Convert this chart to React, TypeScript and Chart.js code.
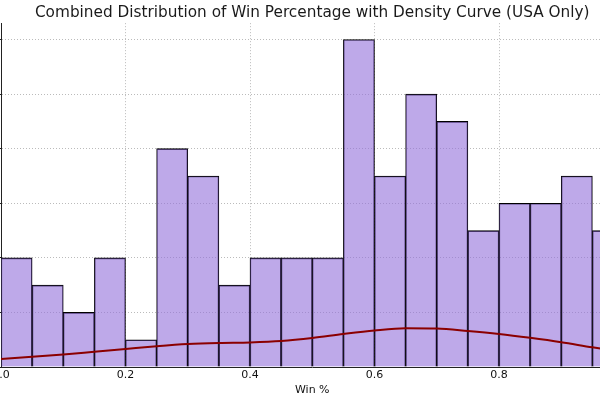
import { useEffect, useRef } from "react";
import { Chart, registerables } from "chart.js";

Chart.register(...registerables);

// Histogram bins (left edges), bin width and counts
const binStarts = [0.0, 0.05, 0.1, 0.15, 0.2, 0.25, 0.3, 0.35, 0.4, 0.45, 0.5, 0.55, 0.6, 0.65, 0.7, 0.75, 0.8, 0.85, 0.9, 0.95];
const binWidth = 0.05;
const counts = [4, 3, 2, 4, 1, 8, 7, 3, 4, 4, 4, 12, 7, 10, 9, 5, 6, 6, 7, 5];

// Density curve (KDE) samples
const densityX = [0.0, 0.05, 0.1, 0.15, 0.2, 0.25, 0.3, 0.35, 0.4, 0.45, 0.5, 0.55, 0.6, 0.65, 0.7, 0.75, 0.8, 0.85, 0.9, 0.95, 1.0];
const densityY = [0.29, 0.38, 0.46, 0.56, 0.66, 0.76, 0.84, 0.88, 0.9, 0.95, 1.06, 1.21, 1.34, 1.42, 1.41, 1.32, 1.21, 1.07, 0.91, 0.72, 0.55];

// Axis ticks
const xTicks = [0.0, 0.2, 0.4, 0.6, 0.8, 1.0];
const yTicks = [0, 2, 4, 6, 8, 10, 12];

const titleText = "Combined Distribution of Win Percentage with Density Curve (USA Only)";
const xTitle = "Win %";

export default function App() {
  const ref = useRef<HTMLCanvasElement | null>(null);

  useEffect(() => {
    if (!ref.current) return;
    Chart.defaults.font.family = "'DejaVu Sans', sans-serif";
    const gridColor = "rgba(150,150,150,0.65)";
    const chart = new Chart(ref.current, {
      type: "bar",
      data: {
        datasets: [
          {
            type: "line",
            label: "Density",
            data: densityX.map((x, i) => ({ x, y: densityY[i] })),
            borderColor: "#8b0000",
            borderWidth: 2,
            pointRadius: 0,
            cubicInterpolationMode: "monotone",
            fill: false,
            order: 0,
          } as any,
          {
            type: "bar",
            label: "Count",
            data: binStarts.map((s, i) => ({ x: s + binWidth / 2, y: counts[i] })),
            backgroundColor: "rgba(147,112,219,0.6)",
            borderColor: "#000000",
            borderWidth: { top: 1, left: 0.8, right: 0.8, bottom: 0 },
            barPercentage: 1,
            categoryPercentage: 1,
            order: 1,
          } as any,
        ],
      },
      options: {
        responsive: false,
        animation: false,
        events: [],
        layout: { padding: { left: 61, right: 76.5, top: 0, bottom: 0 } },
        plugins: {
          legend: { display: false },
          tooltip: { enabled: false },
          title: {
            display: true,
            text: titleText,
            fullSize: false,
            color: "#1a1a1a",
            font: { size: 15.3, weight: "normal" },
            padding: { top: 3.5, bottom: 1.3 },
          },
        },
        scales: {
          x: {
            type: "linear",
            min: 0,
            max: 1,
            offset: false,
            z: 1,
            afterFit: (s: any) => {
              s.height = 33;
            },
            afterBuildTicks: (s: any) => {
              s.ticks = xTicks.map((v) => ({ value: v }));
            },
            grid: { offset: false, color: gridColor, lineWidth: 1, drawTicks: false },
            border: { display: true, color: "#222222", width: 1, dash: [1, 2] },
            ticks: {
              color: "#111111",
              font: { size: 11 },
              padding: 2,
              maxRotation: 0,
              callback: (v: any) => Number(v).toFixed(1),
            },
            title: {
              display: true,
              text: xTitle,
              color: "#111111",
              font: { size: 11 },
              padding: { top: 2, bottom: 3.5 },
            },
          },
          y: {
            type: "linear",
            min: 0,
            max: 12.6,
            z: 1,
            afterFit: (s: any) => {
              s.width = 40;
            },
            afterBuildTicks: (s: any) => {
              s.ticks = yTicks.map((v) => ({ value: v }));
            },
            grid: { color: gridColor, lineWidth: 1, drawTicks: true, tickLength: 3.5, tickColor: "#222222" },
            border: { display: true, color: "#222222", width: 1, dash: [1, 2] },
            ticks: { color: "#111111", font: { size: 11 }, padding: 3 },
          },
        },
      },
    });
    return () => chart.destroy();
  }, []);

  return (
    <div
      style={{
        position: "fixed",
        left: 0,
        top: 0,
        width: 600,
        height: 400,
        overflow: "hidden",
        background: "#ffffff",
      }}
    >
      <canvas ref={ref} width={800} height={400} style={{ position: "absolute", left: -100, top: 0 }} />
    </div>
  );
}
